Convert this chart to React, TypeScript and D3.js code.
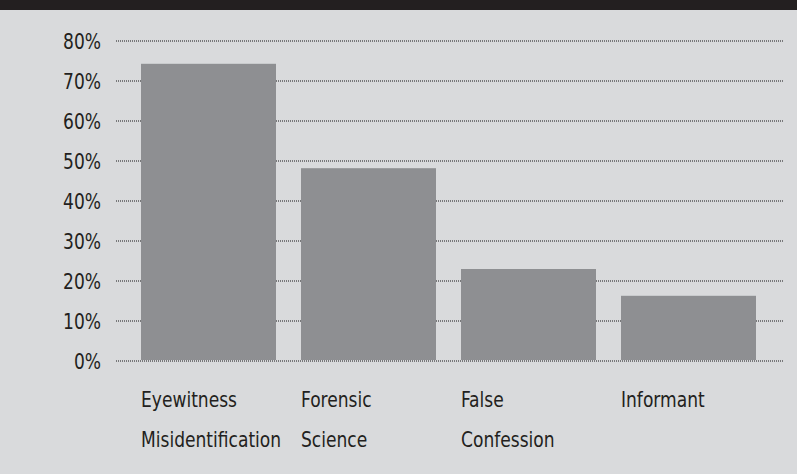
import React, { useRef, useEffect } from "react";
import * as d3 from "d3";

const categories = ["Eyewitness\nMisidentification", "Forensic\nScience", "False\nConfession", "Informant"];
const values = [74.3, 48.2, 23, 16.3];
const yTicks = [0, 10, 20, 30, 40, 50, 60, 70, 80];

const width = 797;
const height = 474;
const bgColor = "#d9dadc";
const topBarColor = "#231f20";
const barColor = "#8e8f92";
const gridColor = "#58585a";
const textColor = "#231f20";
const font = "'DejaVu Sans Condensed', 'DejaVu Sans', sans-serif";
const fontSize = 22;
const squeeze = 19 / 22; // narrow the glyphs so the text looks condensed

export default function App() {
  const svgRef = useRef<SVGSVGElement>(null);

  useEffect(() => {
    if (!svgRef.current) return;
    const svg = d3.select(svgRef.current);
    svg.selectAll("*").remove();

    svg.append("rect").attr("width", width).attr("height", height).attr("fill", bgColor);
    svg.append("rect").attr("width", width).attr("height", 10).attr("fill", topBarColor);

    const y = d3.scaleLinear().domain([0, 80]).range([361, 41]);
    const x = d3.scaleBand<string>()
      .domain(categories)
      .range([141, 756])
      .paddingInner(25 / 160)
      .paddingOuter(0);

    // gridlines
    svg.append("g")
      .selectAll("line")
      .data(yTicks)
      .enter()
      .append("line")
      .attr("x1", 116)
      .attr("x2", 783)
      .attr("y1", (d) => y(d))
      .attr("y2", (d) => y(d))
      .attr("stroke", gridColor)
      .attr("stroke-width", 1.3)
      .attr("stroke-dasharray", "1,1");

    // y labels
    svg.append("g")
      .selectAll("text")
      .data(yTicks)
      .enter()
      .append("text")
      .attr("transform", (d) => `translate(101,${y(d)}) scale(${squeeze},1)`)
      .attr("dy", "0.36em")
      .attr("text-anchor", "end")
      .attr("font-family", font)
      .attr("font-size", fontSize)
      .attr("fill", textColor)
      .text((d) => `${d}%`);

    // bars
    svg.append("g")
      .selectAll("rect")
      .data(values)
      .enter()
      .append("rect")
      .attr("x", (_d, i) => x(categories[i]) ?? 0)
      .attr("width", x.bandwidth())
      .attr("y", (d) => y(d))
      .attr("height", (d) => y(0) - 1 - y(d))
      .attr("fill", barColor);

    // category labels
    const labels = svg.append("g")
      .selectAll("text")
      .data(categories)
      .enter()
      .append("text")
      .attr("transform", (d) => `translate(${x(d) ?? 0},407) scale(${squeeze},1)`)
      .attr("font-family", font)
      .attr("font-size", fontSize)
      .attr("fill", textColor);

    labels.each(function (d) {
      const t = d3.select(this);
      d.split("\n").forEach((line, i) => {
        t.append("tspan")
          .attr("x", 0)
          .attr("y", i * 40)
          .text(line);
      });
    });
  }, []);

  return (
    <div style={{ position: "fixed", left: 0, top: 0 }}>
      <svg ref={svgRef} width={width} height={height} style={{ display: "block" }} />
    </div>
  );
}
